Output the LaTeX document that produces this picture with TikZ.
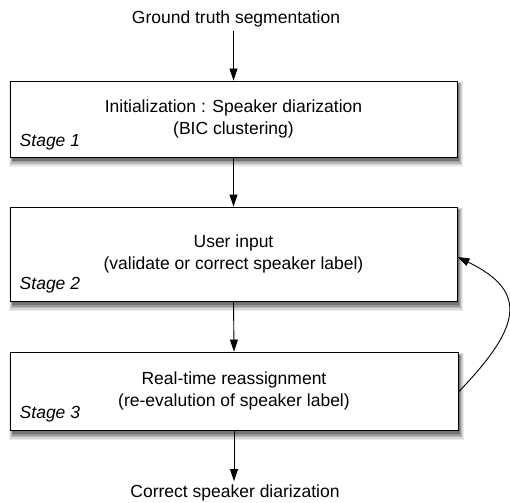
\documentclass[tikz,border=0pt]{standalone}
\usepackage{fontspec}
\setmainfont{Liberation Sans}
\usetikzlibrary{arrows.meta}
\newcommand{\boxshade}[4]{%
  \fill[black!8] ({#1-1},{#2+1}) rectangle ({#3+6},{#4+10});
  \fill[black!16] ({#1},{#2+1.5}) rectangle ({#3+5},{#4+8.5});
  \fill[black!28] ({#1+1},{#2+2}) rectangle ({#3+4},{#4+7});
  \fill[black!40] ({#1+1.5},{#2+2.5}) rectangle ({#3+3},{#4+5.5});
  \fill[black!55] ({#1+2},{#2+3}) rectangle ({#3+2},{#4+4});
}
\begin{document}
\begin{tikzpicture}[x=1pt,y=-1pt,
  font=\fontsize{17.5}{22}\selectfont,
  stagebox/.style={draw=black,line width=0.9pt,fill=white,minimum width=447pt,align=center,inner sep=0pt},
  stagelabel/.style={anchor=base west,inner sep=0pt,font=\fontsize{17.5}{22}\selectfont\itshape},
  flow/.style={line width=0.9pt,-{Triangle[length=12pt,width=8pt]}},
  ext/.style={anchor=base,inner sep=3pt}]
\useasboundingbox (0,0) rectangle (510,502);
\boxshade{10}{81}{457}{157}
\boxshade{10}{207}{457}{301}
\boxshade{10}{352}{458}{430}
\node[ext] (top) at (236,24) {Ground truth segmentation};
\node[stagebox,minimum height=76pt] (b1) at (233.5,119) {Initialization : Speaker diarization\\(BIC clustering)};
\node[stagebox,minimum height=94pt] (b2) at (233.5,254) {User input\\(validate or correct speaker label)};
\node[stagebox,minimum height=78pt,minimum width=448pt] (b3) at (234,391) {Real-time reassignment\\(re-evalution of speaker label)};
\node[stagelabel] (s1) at ([xshift=10pt,yshift=11pt]b1.south west) {Stage 1};
\node[stagelabel] (s2) at ([xshift=10pt,yshift=12pt]b2.south west) {Stage 2};
\node[stagelabel] (s3) at ([xshift=10pt,yshift=12pt]b3.south west) {Stage 3};
\node[ext] (bot) at (235,497) {Correct speaker diarization};
\draw[flow] (top.south -| b1.north) -- (b1.north);
\draw[flow] (b1.south) -- (b2.north);
\draw[flow] (b2.south) -- (b3.north);
\draw[flow] (b3.south) -- (b3.south |- bot.north);
\draw[flow] ([yshift=-1pt]b3.east) .. controls (520,328) and (530,292) .. ([yshift=-3pt]b2.east);
\end{tikzpicture}
\end{document}
